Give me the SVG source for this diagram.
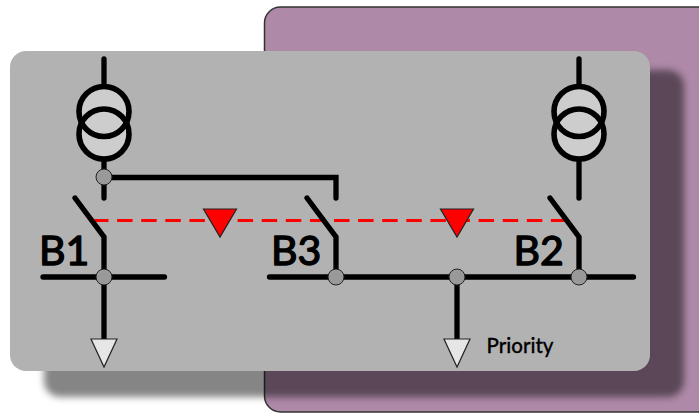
<svg xmlns="http://www.w3.org/2000/svg" width="699" height="413" viewBox="0 0 699 413">
<style>
.w{fill:none;stroke:#000;stroke-width:5.300;stroke-linecap:round;stroke-linejoin:miter}
.j{fill:#999;stroke:#222;stroke-width:1}
.c{fill:#cdcdcd}
.r{fill:none;stroke:#000;stroke-width:5.600}
.o{fill:#e6e6e6;stroke:#222;stroke-width:1.2}
.m{fill:#f00;stroke:#222;stroke-width:1.2}
.l{font-family:"Lato","Noto Sans",sans-serif;font-weight:400;font-size:41px;fill:#000;stroke:#000;stroke-width:1.400;stroke-linejoin:round}
.p{font-family:"Lato","Noto Sans",sans-serif;font-weight:500;font-size:20.500px;fill:#000;stroke:#000;stroke-width:.3}
</style>
<defs><filter id="b" x="-5%" y="-5%" width="110%" height="110%"><feGaussianBlur stdDeviation="3.500"/></filter></defs>
<g id="back"><rect x="264.500" y="7" width="450" height="405" rx="16" fill="#ae89a8" stroke="#333" stroke-width="1.500"/></g>
<g id="panel">
<rect x="44" y="70" width="640" height="327" rx="16" fill="#000" fill-opacity=".48" filter="url(#b)"/>
<rect x="10" y="51" width="640" height="320" rx="16" fill="#b2b2b2"/>
</g>
<g id="connectors">
<path d="M93 220.500H565" fill="none" stroke="#f00" stroke-width="3" stroke-dasharray="15.500 8.600"/>
<path class="w" d="M104 59V85M104 161V198M104 177.500H336V198"/>
<path class="w" d="M75 198L104 237V340M43 277H164.500"/>
<path class="w" d="M307 198L336 237V277M269.500 277H633.500M457 277V340"/>
<path class="w" d="M579 59V85M579 161V198M550 198L579 237V277"/>
</g>
<g id="T1"><circle class="c" cx="104" cy="111.500" r="25"/><circle class="c" cx="104" cy="134" r="25"/><circle class="r" cx="104" cy="111.500" r="25"/><circle class="r" cx="104" cy="134" r="25"/></g>
<g id="T2"><circle class="c" cx="579" cy="111.500" r="25"/><circle class="c" cx="579" cy="134" r="25"/><circle class="r" cx="579" cy="111.500" r="25"/><circle class="r" cx="579" cy="134" r="25"/></g>
<g id="J1"><circle class="j" cx="104" cy="177" r="8"/></g>
<g id="J2"><circle class="j" cx="104" cy="277" r="8"/></g>
<g id="J3"><circle class="j" cx="336" cy="277" r="8"/></g>
<g id="J4"><circle class="j" cx="457" cy="277" r="8"/></g>
<g id="J5"><circle class="j" cx="579" cy="277" r="8"/></g>
<g id="M1"><polygon class="m" points="203.500,209 236.500,209 220,237"/></g>
<g id="M2"><polygon class="m" points="440.500,209 473.500,209 457,237"/></g>
<g id="L1"><polygon class="o" points="91,339 117,339 104,367"/></g>
<g id="L2"><polygon class="o" points="444,339 470,339 457,367"/></g>
<g id="B1"><text class="l" x="39" y="265">B1</text></g>
<g id="B3"><text class="l" x="271" y="265">B3</text></g>
<g id="B2"><text class="l" x="513.500" y="265">B2</text></g>
<g id="priority"><text class="p" x="486.500" y="353">Priority</text></g>
</svg>
